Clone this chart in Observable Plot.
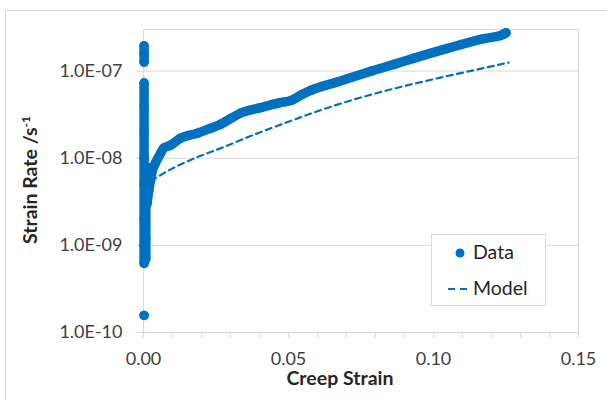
<!DOCTYPE html>
<html>
<head>
<meta charset="utf-8">
<script src="https://cdn.jsdelivr.net/npm/d3@7"></script>
<script src="https://cdn.jsdelivr.net/npm/@observablehq/plot@0.6"></script>
<style>
  html, body { margin: 0; padding: 0; background: #fff; overflow: hidden; }
  #wrap { position: relative; width: 607px; height: 400px; font-family: Lato, "Open Sans", sans-serif; color: #404040; }
  #border { position: absolute; left: 5px; top: 10px; width: 700px; height: 500px; border-left: 1px solid #d9d9d9; border-top: 1px solid #d9d9d9; }
  #chart { position: absolute; left: 0; top: 0; }
  #chart svg text { font-size: 18px !important; font-family: Lato, "Open Sans", sans-serif; }
  .atitle { position: absolute; font-weight: 700; font-size: 19.5px; line-height: 20px; white-space: nowrap; color: #262626; }
  #xtitle { left: 340px; top: 378px; transform: translate(-50%, -50%); }
  #ytitle { left: 30px; top: 180px; transform: translate(-50%, -50%) rotate(-90deg); }
  #legend { position: absolute; left: 431px; top: 234px; width: 113px; height: 70px; border: 1px solid #d9d9d9; background: #fff; font-size: 19.5px; line-height: 24px; color: #262626; }
  .lrow { position: absolute; left: 0; }
  .lrow span { position: absolute; left: 41px; white-space: nowrap; }
</style>
</head>
<body>
<div id="wrap">
  <div id="border"></div>
  <div id="chart"></div>
  <div id="xtitle" class="atitle">Creep Strain</div>
  <div id="ytitle" class="atitle">Strain Rate /s<sup style="font-size:12px;line-height:0;vertical-align:7px">-1</sup></div>
  <div id="legend">
    <div class="lrow" style="top:6px;height:24px;width:113px">
      <svg width="40" height="24" style="position:absolute;left:0;top:0"><circle cx="28" cy="12" r="4.5" fill="#0070C0"></circle></svg>
      <span style="top:-1px">Data</span>
    </div>
    <div class="lrow" style="top:42px;height:24px;width:113px">
      <svg width="40" height="24" style="position:absolute;left:0;top:0"><line x1="16" x2="37" y1="12" y2="12" stroke="#0070C0" stroke-width="2" stroke-dasharray="7,5"></line></svg>
      <span style="top:-1px">Model</span>
    </div>
  </div>
</div>
<script>
// ---- Tick values and labels ----
const yTicks = [1e-10, 1e-9, 1e-8, 1e-7];
const yTickLabels = ["1.0E-10", "1.0E-09", "1.0E-08", "1.0E-07"];
const xMinorTicks = [0, 0.01, 0.02, 0.03, 0.04, 0.05, 0.06, 0.07, 0.08, 0.09, 0.10, 0.11, 0.12, 0.13, 0.14, 0.15];
const xLabelTicks = [0, 0.05, 0.10, 0.15];
const xTickLabels = ["0.00", "0.05", "0.10", "0.15"];

// ---- Data series ----
// Burst of points at (near) zero strain
const zeroTopStrain = [0.0002, 0.0002, 0.0002];
const zeroTopRate = [1.95e-7, 1.6e-7, 1.27e-7];
const zeroMainStrain = [0.0002, 0.0002, 0.0002, 0.0002, 0.0002, 0.0002, 0.0002, 0.0002];
const zeroMainRate = [7.3e-8, 4.0e-8, 2.0e-8, 1.0e-8, 5.0e-9, 2.0e-9, 1.0e-9, 6.2e-10];
const zeroLowStrain = [0.0008, 0.0008, 0.0008, 0.0008];
const zeroLowRate = [8.0e-9, 3.0e-9, 1.2e-9, 7.0e-10];
const outlierStrain = [0.0002];
const outlierRate = [1.57e-10];
// Main creep curve
const curveStrain = [0.0012, 0.0018, 0.0024, 0.0031, 0.0041, 0.0059, 0.0069, 0.0093, 0.0128, 0.0186, 0.0230, 0.0266, 0.0300, 0.0334, 0.0403, 0.0469, 0.0510, 0.0545, 0.0579, 0.0671, 0.0786, 0.0866, 0.0931, 0.1048, 0.1162, 0.1241, 0.1250];
const curveRate = [3.0e-9, 4.2e-9, 5.5e-9, 7.3e-9, 8.8e-9, 1.14e-8, 1.30e-8, 1.41e-8, 1.70e-8, 1.94e-8, 2.2e-8, 2.45e-8, 2.85e-8, 3.28e-8, 3.80e-8, 4.33e-8, 4.61e-8, 5.35e-8, 6.05e-8, 7.55e-8, 1.0e-7, 1.2e-7, 1.4e-7, 1.82e-7, 2.31e-7, 2.64e-7, 2.75e-7];
// Model
const modelStrain = [0.0025, 0.0041, 0.0069, 0.0186, 0.0266, 0.0379, 0.0497, 0.0610, 0.0724, 0.0876, 0.1048, 0.1259];
const modelRate = [5.5e-9, 5.9e-9, 6.7e-9, 1.03e-8, 1.30e-8, 1.85e-8, 2.60e-8, 3.55e-8, 4.70e-8, 6.44e-8, 8.77e-8, 1.25e-7];

const blue = "#0070C0";
const grid = "#d9d9d9";

function rows(strains, rates, seg) {
  return strains.map((s, i) => ({strain: s, rate: rates[i], seg}));
}
const dataRows = [
  ...rows(zeroTopStrain, zeroTopRate, "top"),
  ...rows(zeroMainStrain, zeroMainRate, "main"),
  ...rows(zeroLowStrain, zeroLowRate, "low"),
  ...rows(outlierStrain, outlierRate, "out"),
  ...rows(curveStrain, curveRate, "curve")
];
const modelRows = rows(modelStrain, modelRate, "model");

const chart = Plot.plot({
  width: 607,
  height: 400,
  marginLeft: 143,
  marginRight: 29,
  marginTop: 29,
  marginBottom: 68,
  style: {fontFamily: "Lato, 'Open Sans', sans-serif", fontSize: "18px", background: "transparent", color: "#404040", overflow: "visible"},
  x: {domain: [0, 0.15]},
  y: {type: "log", domain: [1e-10, 3e-7]},
  marks: [
    Plot.gridY(yTicks, {stroke: grid, strokeOpacity: 1, strokeWidth: 1}),
    Plot.frame({stroke: grid, strokeWidth: 1}),
    Plot.axisY(yTicks, {
      label: null, tickSize: 6, tickPadding: 15, fontSize: 18,
      stroke: grid, strokeOpacity: 1, fill: "#404040",
      tickFormat: d => yTickLabels[yTicks.indexOf(d)]
    }),
    Plot.axisX(xMinorTicks, {
      label: null, tickSize: 6, tickPadding: 0,
      stroke: grid, strokeOpacity: 1, tickFormat: () => ""
    }),
    Plot.axisX(xLabelTicks, {
      label: null, tickSize: 0, tickPadding: 20, fontSize: 18, fill: "#404040",
      tickFormat: d => xTickLabels[xLabelTicks.indexOf(d)]
    }),
    Plot.line(modelRows, {x: "strain", y: "rate", stroke: blue, strokeWidth: 2.2, strokeDasharray: "6,4.5", curve: "monotone-x"}),
    Plot.line(dataRows, {x: "strain", y: "rate", z: "seg", stroke: blue, strokeWidth: 9.5, strokeLinecap: "round", strokeLinejoin: "round", curve: "monotone-x"}),
    Plot.dot(dataRows, {x: "strain", y: "rate", r: 4.75, fill: blue, stroke: null})
  ]
});
document.getElementById("chart").appendChild(chart);
</script>
</body>
</html>
